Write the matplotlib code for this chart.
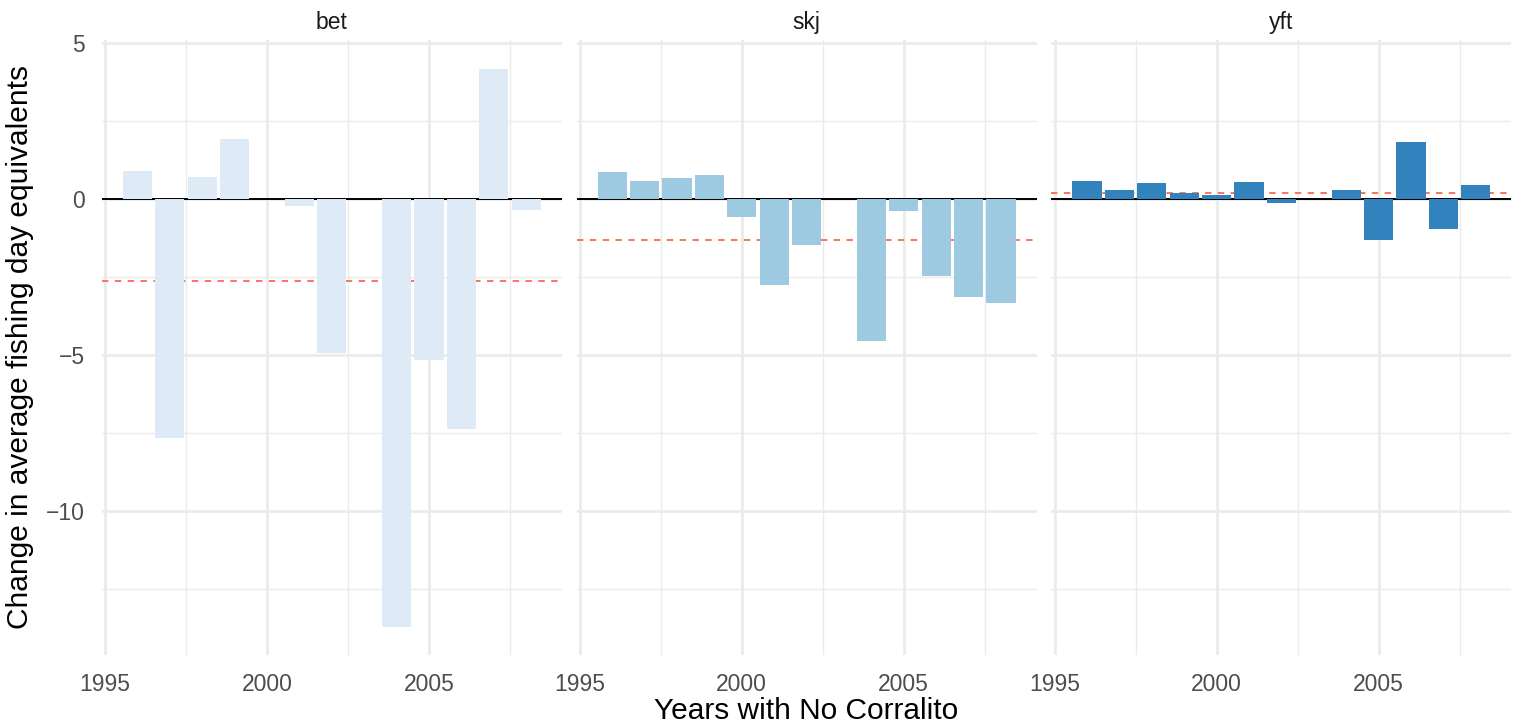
import matplotlib

matplotlib.use("Agg")
import matplotlib.pyplot as plt
from matplotlib.ticker import MultipleLocator

# values
species = ["bet", "skj", "yft"]
bet_years = [1996, 1997, 1998, 1999, 2000, 2001, 2002, 2004, 2005, 2006, 2007, 2008]
bet_change = [0.89, -7.65, 0.70, 1.91, 0.0, -0.21, -4.94, -13.71, -5.15, -7.36, 4.18, -0.35]
skj_years = [1996, 1997, 1998, 1999, 2000, 2001, 2002, 2004, 2005, 2006, 2007, 2008]
skj_change = [0.86, 0.57, 0.67, 0.77, -0.56, -2.77, -1.46, -4.55, -0.37, -2.48, -3.15, -3.34]
yft_years = [1996, 1997, 1998, 1999, 2000, 2001, 2002, 2004, 2005, 2006, 2007, 2008]
yft_change = [0.57, 0.29, 0.51, 0.19, 0.13, 0.54, -0.12, 0.29, -1.32, 1.84, -0.97, 0.44]
mean_change = [-2.63, -1.31, 0.20]

bar_colors = ["#DEEBF7", "#9ECAE1", "#3182BD"]
GRID = "#EBEBEB"

plt.rcParams["font.family"] = ["Liberation Sans", "DejaVu Sans"]

fig, axes = plt.subplots(1, 3, figsize=(15.19, 7.25), dpi=100, sharey=True)
fig.subplots_adjust(left=0.067, right=0.995, top=0.945, bottom=0.097, wspace=0.032)

data = [(bet_years, bet_change), (skj_years, skj_change), (yft_years, yft_change)]
for ax, name, (yrs, vals), col, mval in zip(axes, species, data, bar_colors, mean_change):
    ax.axhline(0, color="black", linewidth=1.4, zorder=1)
    ax.axhline(mval, color="#F8765C", linewidth=1.4, linestyle=(0, (3.3, 3.3)), zorder=1)
    ax.bar(yrs, vals, width=0.9, color=col, linewidth=0, zorder=2)

    ax.set_xlim(1994.9, 2009.1)
    ax.set_ylim(-14.6, 5.1)
    ax.xaxis.set_major_locator(MultipleLocator(5))
    ax.xaxis.set_minor_locator(MultipleLocator(2.5))
    ax.yaxis.set_major_locator(MultipleLocator(5))
    ax.yaxis.set_minor_locator(MultipleLocator(2.5))
    ax.grid(which="major", color=GRID, linewidth=2.0, zorder=0)
    ax.grid(which="minor", color=GRID, linewidth=1.0, zorder=0)
    ax.set_axisbelow(True)
    for s in ax.spines.values():
        s.set_visible(False)
    ax.tick_params(which="both", length=0, labelsize=16.5, labelcolor="#4D4D4D")
    ax.tick_params(axis="x", pad=13)
    ax.tick_params(axis="y", pad=12)
    ax.set_title(name, fontsize=16.5, color="#1A1A1A", pad=8)

axes[0].set_ylabel("Change in average fishing day equivalents", fontsize=21.5, labelpad=9)
fig.supxlabel("Years with No Corralito", fontsize=21.5, x=0.531, y=0.0)

fig.savefig("out.png", dpi=100)
